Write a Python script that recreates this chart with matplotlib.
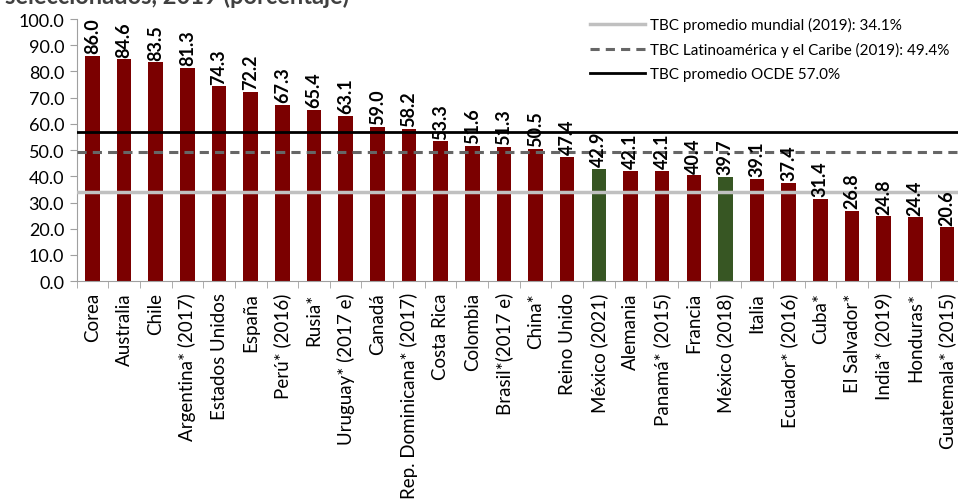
import matplotlib.pyplot as plt
import numpy as np

plt.rcParams['font.family'] = ['Lato', 'DejaVu Sans']

paises = ["Corea", "Australia", "Chile", "Argentina* (2017)", "Estados Unidos",
          "España", "Perú* (2016)", "Rusia*", "Uruguay* (2017 e)", "Canadá",
          "Rep. Dominicana* (2017)", "Costa Rica", "Colombia", "Brasil*(2017 e)",
          "China*", "Reino Unido", "México (2021)", "Alemania", "Panamá* (2015)",
          "Francia", "México (2018)", "Italia", "Ecuador* (2016)", "Cuba*",
          "El Salvador*", "India* (2019)", "Honduras*", "Guatemala* (2015)"]
tbc = [86.0, 84.6, 83.5, 81.3, 74.3, 72.2, 67.3, 65.4, 63.1, 59.0, 58.2, 53.3,
       51.6, 51.3, 50.5, 47.4, 42.9, 42.1, 42.1, 40.4, 39.7, 39.1, 37.4, 31.4,
       26.8, 24.8, 24.4, 20.6]
destacados = ["México (2021)", "México (2018)"]

prom_mundial = 34.1
prom_latam = 49.4
prom_ocde = 57.0

fig = plt.figure(figsize=(9.58, 5.02), dpi=100)
ax = fig.add_axes([0.080, 0.438, 0.925, 0.522])

x = np.arange(len(paises))
colores = ['#375623' if p in destacados else '#7B0000' for p in paises]
ax.bar(x, tbc, width=0.46, color=colores, zorder=2)

for xi, v in zip(x, tbc):
    ax.text(xi, v + 1.0, f"{v:.1f}", rotation=90, ha='center', va='bottom',
            fontsize=13, fontweight='bold', zorder=4)

ax.axhline(prom_mundial, color='#C0C0C0', lw=2.5, zorder=3,
           label=f"TBC promedio mundial (2019): {prom_mundial}%")
ax.axhline(prom_latam, color='#666666', lw=2.2, ls=(0, (3, 2)), zorder=3,
           label=f"TBC Latinoamérica y el Caribe (2019): {prom_latam}%")
ax.axhline(prom_ocde, color='black', lw=2, zorder=3,
           label=f"TBC promedio OCDE {prom_ocde:.1f}%")

ax.set_xlim(-0.5, len(paises) - 0.5)
ax.set_ylim(0, 100)
ax.set_yticks(np.arange(0, 101, 10))
ax.set_yticklabels([f"{t:.1f}" for t in np.arange(0, 101, 10)], fontsize=13)
ax.set_xticks(x)
ax.set_xticklabels(paises, rotation=90, fontsize=13.5)
ax.tick_params(axis='x', length=0, pad=8)
ax.set_xticks(np.arange(-0.5, len(paises), 1), minor=True)
ax.tick_params(axis='x', which='minor', length=5, color='#A0A0A0')
ax.tick_params(axis='y', length=5, color='#A0A0A0', pad=4)
for s in ['top', 'right']:
    ax.spines[s].set_visible(False)
for s in ['left', 'bottom']:
    ax.spines[s].set_color('#A0A0A0')

ax.legend(loc='upper right', bbox_to_anchor=(1.0, 1.06), frameon=False,
          fontsize=11, handlelength=3.6, handletextpad=0.3, labelspacing=0.65)

fig.text(0.005, 1.008, "seleccionados, 2019 (porcentaje)", fontsize=17,
         fontweight='bold', color='#404040', va='center', ha='left')

fig.savefig("out.png", dpi=100)
